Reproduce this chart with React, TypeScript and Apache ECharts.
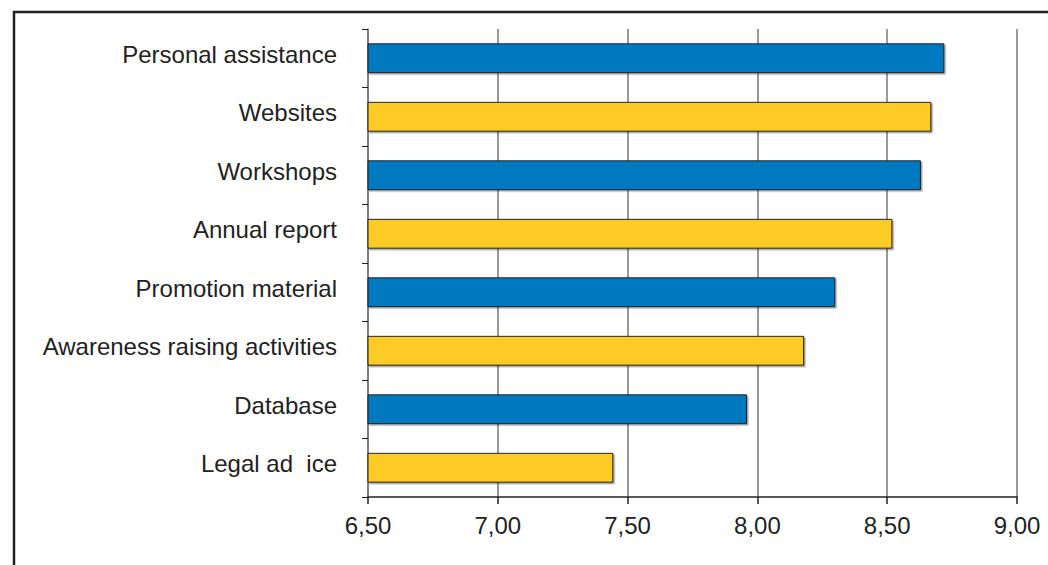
import React, { useEffect, useRef } from "react";
import * as echarts from "echarts";

const categories = [
  "Personal assistance",
  "Websites",
  "Workshops",
  "Annual report",
  "Promotion material",
  "Awareness raising activities",
  "Database",
  "Legal ad  ice",
];
const values = [8.72, 8.67, 8.63, 8.52, 8.3, 8.18, 7.96, 7.445];
const barColors = ["#0079C1", "#FCCB26"];
const xMin = 6.5;
const xMax = 9.0;
const xStep = 0.5;

export default function App() {
  const ref = useRef<HTMLDivElement>(null);
  useEffect(() => {
    const chart = echarts.init(ref.current!, null, { renderer: "svg" });
    const font = "'Liberation Sans', Arial, sans-serif";
    chart.setOption({
      animation: false,
      backgroundColor: "#ffffff",
      grid: { left: 368, right: 31, top: 29, bottom: 68, containLabel: false },
      xAxis: {
        type: "value",
        min: xMin,
        max: xMax,
        interval: xStep,
        axisLine: { show: true, lineStyle: { color: "#222", width: 1.5 } },
        axisTick: { show: true, length: 7, lineStyle: { color: "#222", width: 1.5 } },
        axisLabel: {
          margin: 16,
          fontSize: 24,
          fontFamily: font,
          color: "#222",
          formatter: (v: number) => v.toFixed(2).replace(".", ","),
        },
        splitLine: { show: true, lineStyle: { color: "#777", width: 1.5 } },
      },
      yAxis: {
        type: "category",
        data: categories,
        inverse: true,
        axisLine: { show: true, lineStyle: { color: "#777", width: 1.5 } },
        axisTick: { show: true, length: 6, lineStyle: { color: "#222", width: 1 } },
        axisLabel: {
          margin: 31,
          fontSize: 24,
          fontFamily: font,
          color: "#222",
          verticalAlign: "bottom",
          lineHeight: 8,
        },
        splitLine: { show: false },
      },
      series: [
        {
          type: "bar",
          data: values.map((v, i) => ({
            value: v,
            itemStyle: { color: barColors[i % 2] },
          })),
          barWidth: "51%",
          itemStyle: {
            borderColor: "#222",
            borderWidth: 1,
            shadowColor: "rgba(0,0,0,0.35)",
            shadowOffsetX: 1.5,
            shadowOffsetY: 1.5,
            shadowBlur: 1,
          },
        },
      ],
      graphic: [
        {
          type: "polyline",
          shape: { points: [[14, 565], [14, 12], [1048, 12]] },
          style: { stroke: "#222", lineWidth: 2.5, fill: null },
          silent: true,
        },
      ],
    });
    return () => chart.dispose();
  }, []);
  return (
    <div
      ref={ref}
      style={{ position: "absolute", left: 0, top: 0, width: 1048, height: 565 }}
    />
  );
}
